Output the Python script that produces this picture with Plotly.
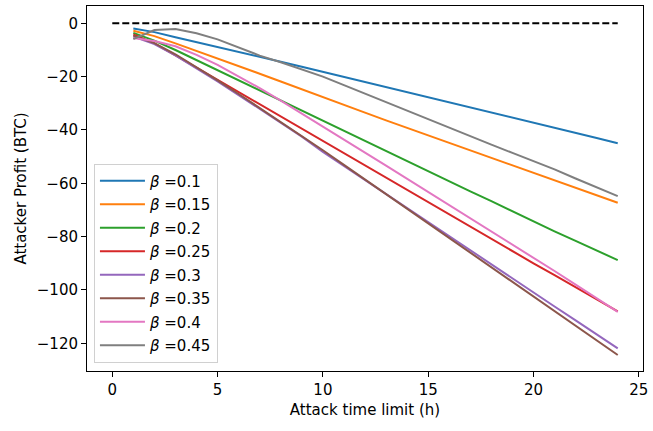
import plotly.graph_objects as go

hours = list(range(1, 25))
betas = ["0.1", "0.15", "0.2", "0.25", "0.3", "0.35", "0.4", "0.45"]
colors = ["#1f77b4", "#ff7f0e", "#2ca02c", "#d62728", "#9467bd", "#8c564b", "#e377c2", "#7f7f7f"]

p_01 = [-1.9, -3.3, -5.2, -7.0, -8.9, -10.7, -12.6, -14.4, -16.3, -18.2, -20.1, -22.0,
        -23.9, -25.8, -27.6, -29.5, -31.4, -33.3, -35.2, -37.1, -39.1, -41.0, -43.0, -45.0]
p_015 = [-2.8, -4.8, -7.5, -10.3, -13.2, -16.0, -18.9, -21.8, -24.8, -27.8, -30.7, -33.5,
         -36.4, -39.2, -42.0, -44.9, -47.7, -50.5, -53.4, -56.2, -59.0, -61.8, -64.6, -67.3]
p_02 = [-3.6, -6.5, -10.0, -13.8, -17.6, -21.4, -25.2, -29.0, -32.8, -36.7, -40.5, -44.3,
        -48.0, -51.8, -55.5, -59.2, -63.0, -66.7, -70.5, -74.3, -78.0, -81.6, -85.2, -88.8]
p_025 = [-4.2, -7.5, -12.0, -16.6, -21.2, -25.8, -30.4, -35.0, -39.6, -44.2, -48.8, -53.4,
         -58.0, -62.6, -67.2, -71.8, -76.4, -81.0, -85.6, -90.0, -94.4, -98.9, -103.4, -108.0]
p_03 = [-5.0, -7.8, -12.0, -16.8, -21.8, -26.9, -32.0, -37.2, -42.5, -48.2, -53.5, -58.8,
        -64.1, -69.3, -74.6, -79.8, -85.1, -90.4, -95.7, -101.0, -106.2, -111.4, -116.6, -121.9]
p_035 = [-4.6, -7.4, -11.6, -16.4, -21.4, -26.5, -31.7, -36.9, -42.2, -47.6, -53.1, -58.6,
         -64.1, -69.6, -75.1, -80.5, -86.0, -91.5, -97.0, -102.6, -108.0, -113.5, -119.0, -124.4]
p_04 = [-5.5, -6.6, -8.6, -11.8, -15.6, -19.8, -24.3, -29.0, -33.8, -38.7, -43.6, -48.5,
        -53.4, -58.3, -63.2, -68.1, -73.0, -77.9, -82.9, -87.9, -92.9, -98.0, -103.1, -108.2]
p_045 = [-5.9, -2.5, -2.1, -3.75, -6.0, -9.0, -12.1, -14.6, -17.2, -20.0, -23.2, -26.4,
         -29.6, -32.9, -36.2, -39.4, -42.4, -45.5, -48.6, -51.7, -54.8, -58.2, -61.5, -64.8]

series = [p_01, p_015, p_02, p_025, p_03, p_035, p_04, p_045]

baseline_x = [0, 24]
baseline_y = [0, 0]

x_ticks = [0, 5, 10, 15, 20, 25]
y_ticks = [0, -20, -40, -60, -80, -100, -120]

font_family = "DejaVu Sans, sans-serif"
fs = 15

fig = go.Figure()
fig.add_trace(go.Scatter(x=baseline_x, y=baseline_y, mode="lines", showlegend=False,
                         line=dict(color="black", width=2, dash="7px,3px"), hoverinfo="skip"))
for b, c, vals in zip(betas, colors, series):
    fig.add_trace(go.Scatter(x=hours, y=vals, mode="lines", name="<i>β</i> =" + b,
                             legendgroup=b,
                             line=dict(color=c, width=2)))

axis_common = dict(showline=True, linecolor="black", linewidth=1, mirror=True,
                   ticks="outside", ticklen=5, tickwidth=1, tickcolor="black",
                   showgrid=False, zeroline=False, ticklabeloverflow="allow",
                   tickfont=dict(size=fs, color="black", family=font_family))

fig.update_layout(
    width=653, height=431,
    margin=dict(l=87, r=5, t=6, b=60),
    paper_bgcolor="white", plot_bgcolor="white",
    font=dict(family=font_family, size=fs, color="black"),
    xaxis=dict(range=[-1.2, 25.2], tickvals=x_ticks,
               title=dict(text="Attack time limit (h)", font=dict(size=fs), standoff=6),
               **axis_common),
    yaxis=dict(range=[-130.4, 6.5], tickvals=y_ticks,
               title=dict(text="Attacker Profit (BTC)", font=dict(size=fs), standoff=6),
               **axis_common),
    legend=dict(x=0.0125, y=0.023, xanchor="left", yanchor="bottom",
                bgcolor="rgba(255,255,255,0.8)", bordercolor="#d0d0d0", borderwidth=1,
                font=dict(size=fs), traceorder="grouped", tracegroupgap=1,
                itemwidth=45),
    showlegend=True,
)

fig.write_html("out.html")
